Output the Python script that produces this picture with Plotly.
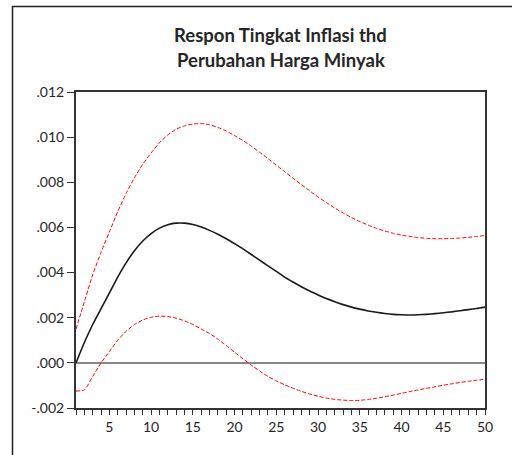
import plotly.graph_objects as go

periods = list(range(1, 51))

response = [0.0000, 0.0009, 0.0017, 0.0024, 0.0031, 0.0038, 0.00443, 0.00497, 0.00540, 0.00573,
            0.00597, 0.00612, 0.00619, 0.00619, 0.00613, 0.00602, 0.00587, 0.00570, 0.00550, 0.00528,
            0.00505, 0.00480, 0.00455, 0.00430, 0.00405, 0.00380, 0.00358, 0.00337, 0.00318, 0.00301,
            0.00285, 0.00271, 0.00258, 0.00247, 0.00238, 0.00230, 0.00224, 0.00219, 0.00215, 0.00213,
            0.00212, 0.00213, 0.00215, 0.00218, 0.00222, 0.00226, 0.00231, 0.00236, 0.00241, 0.00247]

upper = [0.0015, 0.0027, 0.0039, 0.0049, 0.0058, 0.0067, 0.0075, 0.0082, 0.0088, 0.0093,
         0.00975, 0.0101, 0.01035, 0.0105, 0.01058, 0.0106, 0.01055, 0.01043, 0.01027, 0.01007,
         0.00985, 0.0096, 0.00933, 0.00905, 0.00876, 0.00847, 0.00818, 0.0079, 0.00762, 0.00735,
         0.0071, 0.00686, 0.00664, 0.00644, 0.00626, 0.0061, 0.00596, 0.00584, 0.00574, 0.00566,
         0.0056, 0.00555, 0.00552, 0.0055, 0.0055, 0.00551, 0.00553, 0.00556, 0.0056, 0.00564]

lower = [-0.00125, -0.0012, -0.0006, 0.0000, 0.0005, 0.0010, 0.0014, 0.0017, 0.0019, 0.00202,
         0.00207, 0.00205, 0.00198, 0.00186, 0.0017, 0.0015, 0.0013, 0.00105, 0.00077, 0.00047,
         0.00018, -0.0001, -0.00036, -0.0006, -0.0008, -0.00097, -0.00112, -0.00126, -0.00138, -0.00148,
         -0.00156, -0.00162, -0.00165, -0.00167, -0.00166, -0.00162, -0.00157, -0.0015, -0.00143, -0.00135,
         -0.00127, -0.0012, -0.00113, -0.00106, -0.00099, -0.00093, -0.00087, -0.00082, -0.00077, -0.00072]

y_tickvals = [-0.002, 0.0, 0.002, 0.004, 0.006, 0.008, 0.010, 0.012]
y_ticktext = ["-.002", ".000", ".002", ".004", ".006", ".008", ".010", ".012"]
x_tickvals = [5, 10, 15, 20, 25, 30, 35, 40, 45, 50]

title_lines = ["Respon Tingkat Inflasi thd", "Perubahan Harga Minyak"]

FONT = "Lato"
TXT = "#262626"

fig = go.Figure()
fig.add_trace(go.Scatter(x=periods, y=upper, mode="lines",
                         line=dict(color="#ff0000", width=1, dash="4px,2px", shape="spline", smoothing=0.6)))
fig.add_trace(go.Scatter(x=periods, y=lower, mode="lines",
                         line=dict(color="#ff0000", width=1, dash="4px,2px", shape="spline", smoothing=0.6)))
fig.add_trace(go.Scatter(x=periods, y=response, mode="lines",
                         line=dict(color="#1a1a1a", width=1.6, shape="spline", smoothing=0.6)))

# plot area: left 76, right 485, top 92, bottom 408 (px)
L, R, T, B = 76, 485, 92, 408
W, H = 512, 455
pw, ph = R - L, B - T

def px_x(p):
    return (p - L) / pw

def px_y(p):
    return (B - p) / ph

fig.update_layout(
    width=W, height=H,
    margin=dict(l=L, r=W - R, t=T, b=H - B, pad=0),
    paper_bgcolor="white", plot_bgcolor="white",
    showlegend=False,
    font=dict(family=FONT, color=TXT, size=14),
    xaxis=dict(range=[1, 50], tickvals=x_tickvals, ticks="outside", ticklen=5,
               tickwidth=1, tickcolor="#333", showgrid=False, zeroline=False,
               showline=True, linecolor="#333", linewidth=2, mirror=True,
               minor=dict(dtick=1, tick0=1, ticks="outside", ticklen=5, tickcolor="#333", tickwidth=1),
               tickfont=dict(size=14, color=TXT, family=FONT)),
    yaxis=dict(range=[-0.002, 0.012], tickvals=y_tickvals, ticktext=y_ticktext,
               ticks="outside", ticklen=7, tickwidth=1, tickcolor="#333",
               showgrid=False, zeroline=True, zerolinecolor="#888", zerolinewidth=1.5,
               showline=True, linecolor="#333", linewidth=2, mirror=True,
               tickfont=dict(size=14, color=TXT, family=FONT)),
    shapes=[
        dict(type="line", xref="paper", yref="paper",
             x0=px_x(12), x1=px_x(520), y0=px_y(6.5), y1=px_y(6.5),
             line=dict(color="#222", width=1.5), layer="below"),
        dict(type="line", xref="paper", yref="paper",
             x0=px_x(12.5), x1=px_x(12.5), y0=px_y(6), y1=px_y(470),
             line=dict(color="#222", width=1.5), layer="below"),
    ],
    annotations=[
        dict(text=f"<b>{title_lines[0]}</b>", xref="paper", yref="paper", x=0.5, y=px_y(35),
             xanchor="center", yanchor="middle", showarrow=False,
             font=dict(size=18.5, family=FONT, color=TXT)),
        dict(text=f"<b>{title_lines[1]}</b>", xref="paper", yref="paper", x=0.5, y=px_y(60),
             xanchor="center", yanchor="middle", showarrow=False,
             font=dict(size=18.5, family=FONT, color=TXT)),
    ],
)

fig.write_html("out.html", config={"displayModeBar": False},
               post_script="document.body.style.margin='0';document.body.style.overflow='hidden';")
